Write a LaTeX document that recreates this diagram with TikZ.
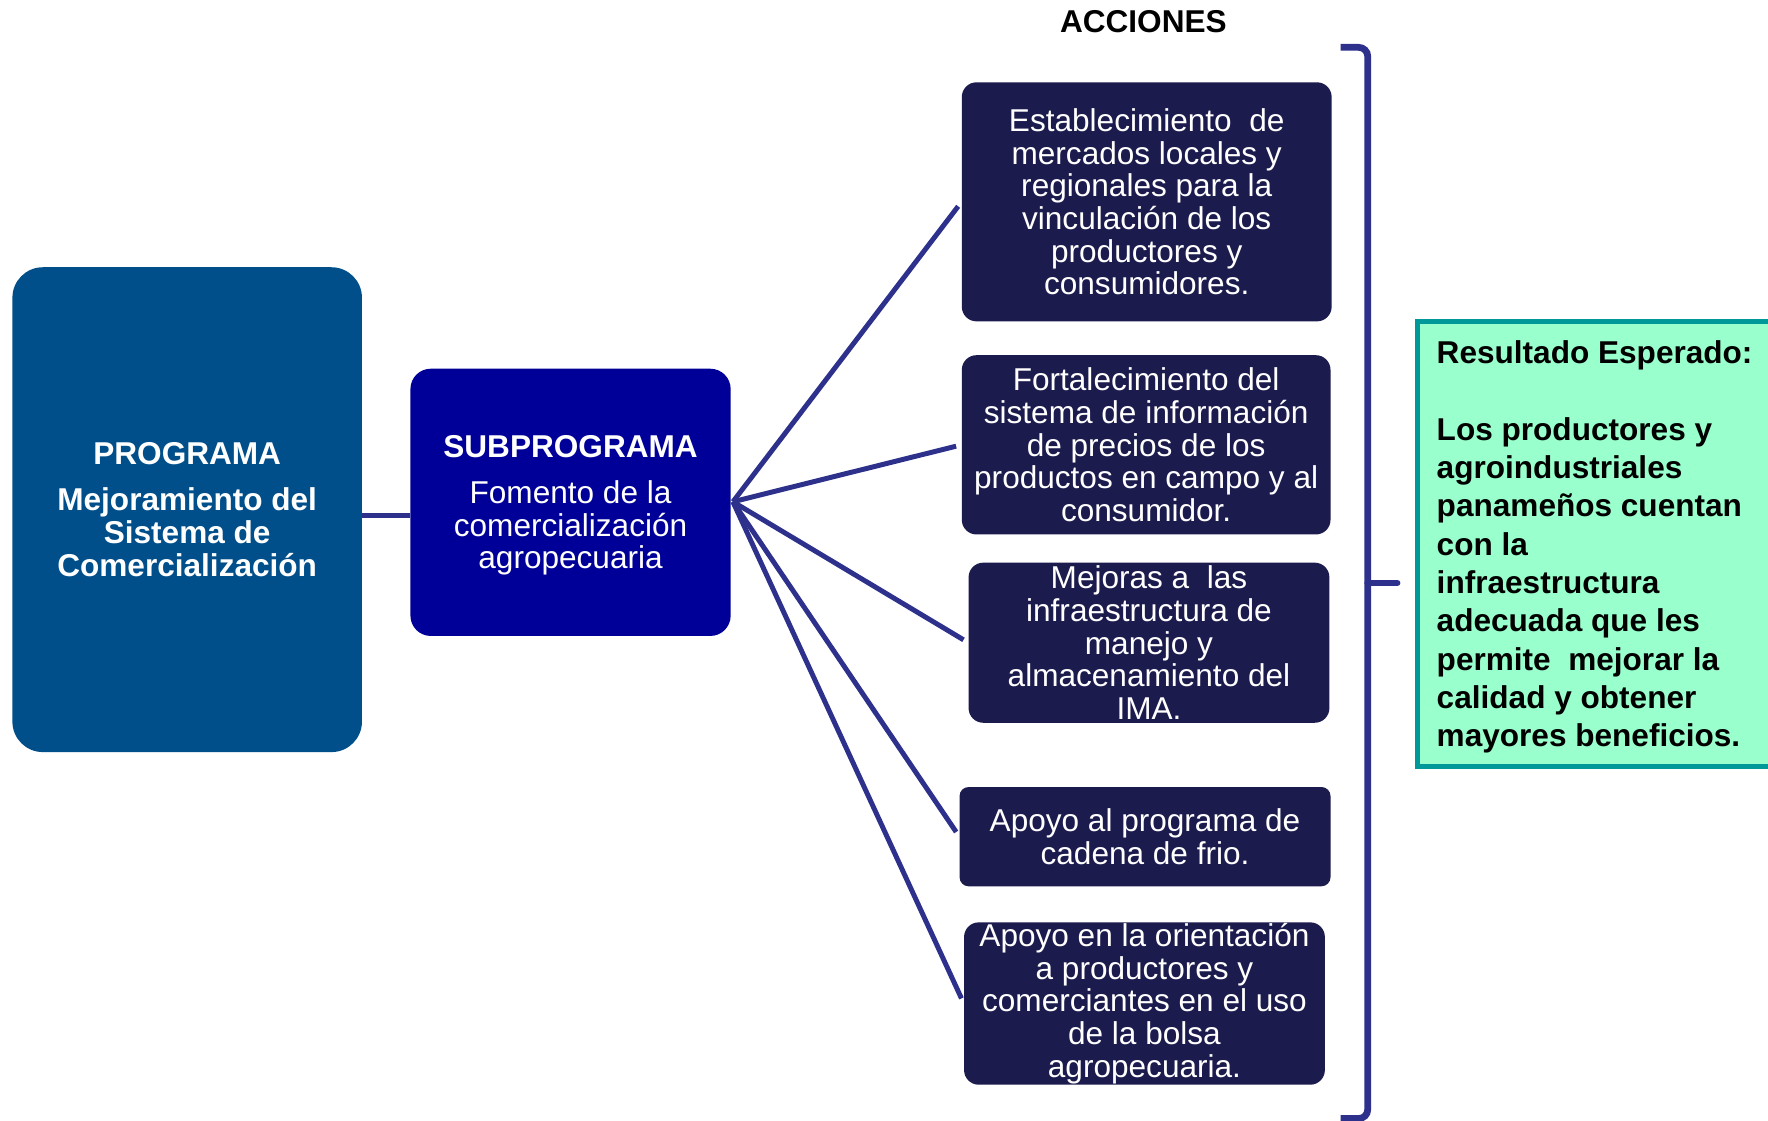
\documentclass[tikz,border=0pt]{standalone}
\usepackage{fontspec}
\setmainfont{Liberation Sans}
\definecolor{progblue}{RGB}{0,79,138}
\definecolor{subblue}{RGB}{0,0,153}
\definecolor{actnavy}{RGB}{28,27,77}
\definecolor{linkblue}{RGB}{46,49,140}
\definecolor{resgreen}{RGB}{153,255,204}
\definecolor{resteal}{RGB}{0,153,153}
\tikzset{
  boxtext/.style={text=white, align=center, inner sep=0pt,
    font=\fontsize{28}{29}\selectfont},
  actbox/.style={boxtext, fill=actnavy, rounded corners=13pt},
  link/.style={draw=linkblue, line width=4.4pt},
}
\begin{document}
\begin{tikzpicture}[x=1pt,y=-1pt]
\useasboundingbox (0,0) rectangle (1568,994);
\fill[white] (0,0) rectangle (1568,994);

% title
\node[font=\fontsize{28}{29}\selectfont\bfseries] (title) at (1014,19) {ACCIONES};

% programa
\node[boxtext, fill=progblue, rounded corners=27pt, minimum width=310pt, minimum height=430pt] (prog) at (166,452)
  {\bfseries PROGRAMA\\[12pt]\bfseries Mejoramiento del\\\bfseries Sistema de\\\bfseries Comercialización};

% subprograma
\node[boxtext, fill=subblue, rounded corners=18pt, minimum width=284pt, minimum height=237pt] (sub) at (506,445.5) {};
\node[boxtext] (subtext) at (506,448)
  {\bfseries SUBPROGRAMA\\[12pt]Fomento de la\\comercialización\\agropecuaria};

% actions
\node[actbox, minimum width=328pt, minimum height=212pt] (a1) at (1017,179)
  {Establecimiento\ \ de\\mercados locales y\\regionales para la\\vinculación de los\\productores y\\consumidores.};
\node[actbox, minimum width=327pt, minimum height=159pt] (a2) at (1016.5,394.5)
  {Fortalecimiento del\\sistema de información\\de precios de los\\productos en campo y al\\consumidor.};
\node[actbox, minimum width=320pt, minimum height=142pt] (a3) at (1019,570)
  {Mejoras a\ \ las\\infraestructura de\\manejo y\\almacenamiento del\\IMA.};
\node[actbox, rounded corners=8pt, minimum width=329pt, minimum height=88pt] (a4) at (1015.5,742)
  {Apoyo al programa de\\cadena de frio.};
\node[actbox, minimum width=320pt, minimum height=144pt] (a5) at (1015,890)
  {Apoyo en la orientación\\a productores y\\comerciantes en el uso\\de la bolsa\\agropecuaria.};

% connectors
\coordinate (hub) at (650,445);
\draw[link] (prog.east |- 0,457) -- (sub.west |- 0,457);
\foreach \t in {a1,a2,a3,a4,a5}
  \draw[link, shorten >=5pt] (hub) -- (\t.west);

% bracket
\coordinate (bt) at (1189,42);
\coordinate (bb) at (1189,992);
\coordinate (bm) at (1213,517);
\coordinate (btip) at (1239,517);
\draw[draw=linkblue, line width=6pt, rounded corners=8pt] (bt) -- (1213,42) -- (1213,992) -- (bb);
\draw[draw=linkblue, line width=6pt, line cap=round] (bm) -- (btip);

% result box
\draw[fill=resgreen, draw=resteal, line width=4pt] (1257,285) rectangle (1590,680);
\node[anchor=west, align=left, inner sep=0pt, font=\fontsize{28}{34}\selectfont\bfseries] (res) at (1274,485)
  {Resultado Esperado:\\[34pt]Los productores y\\agroindustriales\\panameños cuentan\\con la\\infraestructura\\adecuada que les\\permite\ \ mejorar la\\calidad y obtener\\mayores beneficios.};
\end{tikzpicture}
\end{document}
